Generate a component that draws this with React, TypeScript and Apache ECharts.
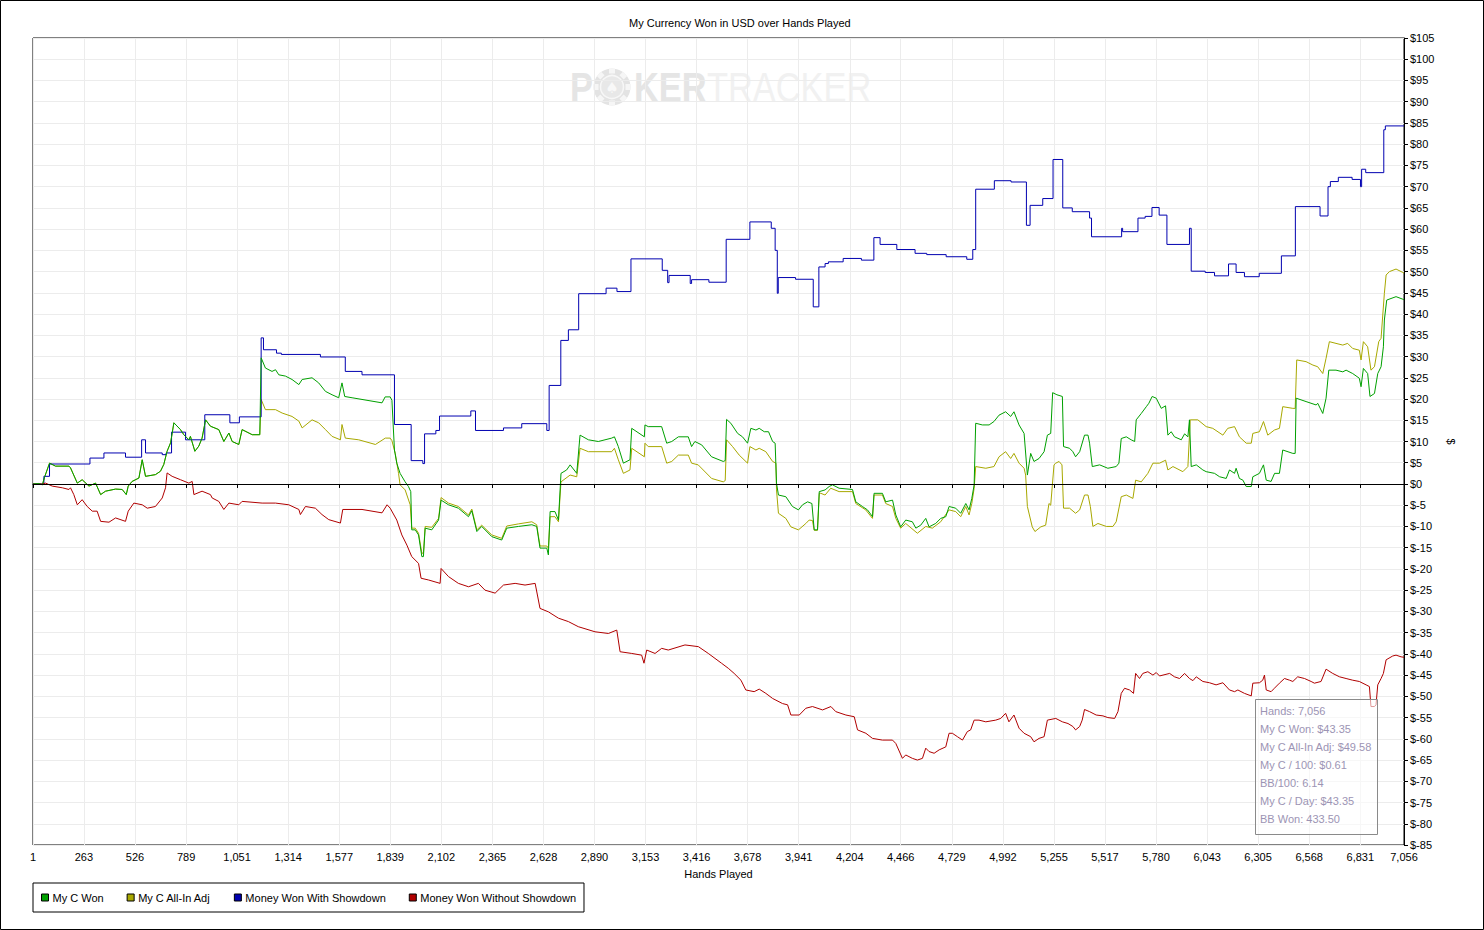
import React, { useEffect, useRef } from 'react';
import * as echarts from 'echarts';

const FONT = '"Liberation Sans", Arial, sans-serif';

const titleText = 'My Currency Won in USD over Hands Played';
const xAxisName = 'Hands Played';
const yAxisName = '$';
const seriesNames = ['My C Won', 'My C All-In Adj', 'Money Won With Showdown', 'Money Won Without Showdown'];
const seriesColors = ['#00a000', '#a8a800', '#0000b0', '#b00000'];

const xTicks = [1, 263, 526, 789, 1051, 1314, 1577, 1839, 2102, 2365, 2628, 2890, 3153, 3416, 3678, 3941, 4204, 4466, 4729, 4992, 5255, 5517, 5780, 6043, 6305, 6568, 6831, 7056];

const tooltipLines = [
  'Hands: 7,056',
  'My C Won: $43.35',
  'My C All-In Adj: $49.58',
  'My C / 100: $0.61',
  'BB/100: 6.14',
  'My C / Day: $43.35',
  'BB Won: 433.50',
];

// Both "won" series coincide until the first all-in hand
const commonStart = [[1,0],[31,0.1],[49,-0.2],[62,1.8],[86,4.9],[117,4.2],[186,4.2],[194,3.8],[229,0.2],[254,1.0],[289,-0.5],[323,0.2],[349,-2.5],[374,-1.7],[426,-1.2],[460,-1.3],[481,-2.5],[491,-0.5],[511,0.6],[546,1.4],[563,5.7],[580,1.8],[631,2.2],[657,3.0],[674,4.6],[691,7.7],[709,9.7],[726,14.4],[760,12.8],[777,11.6],[803,10.4],[811,11.2],[834,7.7],[854,8.9],[871,10.8],[889,15.1],[914,13.6],[957,12.8],[983,10.0],[1009,12.0],[1026,10.0],[1060,9.3],[1077,12.8],[1129,11.6],[1168,11.6]];

const wonRest = [[1175,29.7],[1197,27.3],[1231,26.5],[1249,26.9],[1266,25.7],[1300,25.4],[1334,24.6],[1369,23.4],[1386,24.6],[1437,25.0],[1471,23.8],[1506,21.8],[1540,21.0],[1574,20.3],[1591,23.8],[1605,20.6],[1643,20.3],[1694,19.9],[1797,19.1],[1813,20.5],[1839,20.5],[1848,19.7],[1861,8.0],[1873,4.9],[1890,2.5],[1916,0.5],[1933,-0.6],[1945,-1.8],[1950,-10.8],[1968,-10.8],[1985,-12.0],[2002,-17.1],[2010,-17.1],[2019,-10.4],[2053,-10.8],[2088,-8.5],[2101,-3.8],[2139,-4.9],[2190,-5.7],[2242,-7.7],[2259,-6.3],[2285,-11.2],[2310,-10.0],[2362,-12.4],[2413,-13.2],[2439,-10.4],[2499,-10.0],[2568,-9.6],[2593,-10.0],[2610,-15.1],[2645,-15.1],[2653,-16.7],[2662,-6.5],[2687,-6.5],[2705,-8.5],[2718,2.5],[2747,3.3],[2765,4.5],[2799,2.5],[2816,11.5],[2859,10.4],[2910,10.0],[2979,10.8],[2993,11.1],[3013,8.8],[3039,4.9],[3073,5.7],[3082,13.1],[3147,11.1],[3150,13.9],[3167,13.5],[3236,13.5],[3262,9.6],[3288,10.0],[3322,11.1],[3373,11.1],[3390,8.8],[3407,10.0],[3442,9.2],[3493,6.4],[3553,5.3],[3563,5.5],[3570,15.2],[3592,14.3],[3627,11.9],[3652,11.1],[3678,9.6],[3695,13.1],[3721,12.7],[3738,13.1],[3764,12.3],[3786,12.3],[3807,10.0],[3820,9.6],[3827,0.2],[3837,-2.6],[3875,-3.0],[3909,-5.3],[3940,-6.1],[3961,-4.9],[3987,-4.2],[4009,-4.6],[4021,-10.8],[4038,-10.8],[4047,-1.8],[4077,-1.4],[4098,-0.6],[4115,-0.2],[4149,-1.0],[4218,-1.3],[4235,-4.2],[4269,-5.3],[4295,-6.1],[4321,-7.7],[4329,-2.2],[4372,-2.2],[4389,-4.2],[4424,-3.8],[4441,-7.3],[4466,-10.1],[4492,-8.5],[4526,-8.9],[4544,-10.4],[4569,-9.7],[4595,-8.1],[4612,-10.1],[4646,-9.3],[4672,-8.1],[4698,-7.7],[4715,-5.3],[4749,-5.7],[4775,-6.9],[4801,-4.6],[4818,-6.1],[4832,-3.4],[4844,-0.2],[4852,14.3],[4886,13.9],[4921,13.9],[4946,14.7],[4972,16.2],[5006,17.0],[5032,15.9],[5049,17.0],[5075,13.9],[5101,11.9],[5118,2.1],[5135,7.2],[5152,5.3],[5178,6.0],[5204,7.6],[5221,11.5],[5238,11.9],[5248,21.5],[5270,21.0],[5298,20.6],[5304,8.8],[5335,8.4],[5352,7.6],[5366,6.4],[5387,7.6],[5412,11.5],[5430,11.5],[5438,9.6],[5452,4.1],[5490,4.5],[5532,3.7],[5575,4.1],[5589,4.9],[5601,10.7],[5627,11.1],[5652,10.4],[5670,10.0],[5678,15.1],[5704,16.6],[5730,18.2],[5743,19.0],[5760,20.6],[5781,20.2],[5807,17.8],[5829,18.4],[5841,11.5],[5858,12.3],[5875,11.1],[5910,10.4],[5927,11.8],[5944,11.1],[5952,15.1],[5961,4.1],[5987,4.5],[6021,3.3],[6038,2.9],[6081,2.5],[6107,1.7],[6141,1.3],[6158,3.3],[6184,2.5],[6192,3.7],[6209,1.3],[6227,0.9],[6244,-0.6],[6270,-0.6],[6278,1.7],[6312,2.5],[6333,4.5],[6347,0.9],[6372,0.6],[6390,2.5],[6415,2.5],[6432,8.0],[6484,7.2],[6496,7.2],[6501,20.2],[6552,19.4],[6604,18.6],[6612,19.0],[6638,16.6],[6655,20.2],[6669,26.8],[6706,26.8],[6741,26.4],[6758,26.8],[6792,26.0],[6826,24.9],[6835,22.9],[6847,27.2],[6869,26.0],[6881,20.6],[6904,21.3],[6921,26.0],[6938,27.6],[6950,32.3],[6955,38.6],[6967,43.3],[7015,44.1],[7050,43.5],[7056,43.35]];

const allInRest = [[1175,19.9],[1197,17.5],[1249,17.5],[1283,16.7],[1334,15.9],[1369,14.8],[1386,13.2],[1437,15.1],[1471,14.4],[1506,12.8],[1540,11.2],[1583,10.4],[1591,14.0],[1608,10.8],[1677,10.4],[1763,9.3],[1814,10.8],[1839,10.8],[1848,10.2],[1865,7.2],[1882,2.5],[1890,-0.2],[1916,-1.4],[1942,-4.9],[1950,-10.4],[1968,-10.4],[1985,-11.6],[2002,-16.3],[2010,-16.3],[2019,-10.0],[2053,-10.2],[2088,-8.1],[2101,-3.2],[2139,-4.5],[2190,-5.3],[2242,-7.3],[2259,-5.9],[2285,-10.8],[2310,-9.7],[2362,-12.0],[2413,-12.8],[2439,-9.9],[2499,-9.4],[2568,-8.9],[2593,-9.6],[2610,-14.6],[2645,-14.6],[2653,-15.1],[2662,-7.7],[2687,-7.7],[2705,-8.9],[2718,0.5],[2765,2.1],[2799,1.7],[2816,8.4],[2859,7.6],[2979,7.6],[2993,8.4],[3013,5.7],[3039,2.5],[3073,3.3],[3082,8.4],[3147,6.4],[3150,9.6],[3167,8.8],[3236,8.8],[3262,4.9],[3288,5.3],[3322,6.8],[3373,6.8],[3390,4.9],[3424,4.5],[3493,1.3],[3553,0.5],[3563,0.8],[3570,10.4],[3601,8.8],[3635,6.8],[3678,4.9],[3690,8.8],[3721,8.0],[3738,8.4],[3772,7.6],[3807,5.3],[3824,4.9],[3827,-1.4],[3837,-6.9],[3875,-8.1],[3901,-10.1],[3940,-10.8],[3978,-9.3],[3995,-8.5],[4012,-8.6],[4021,-10.9],[4038,-10.9],[4047,-2.2],[4055,-2.2],[4077,-2.6],[4106,-1.0],[4149,-1.8],[4218,-1.8],[4235,-4.6],[4286,-6.1],[4321,-8.1],[4329,-2.6],[4372,-2.6],[4389,-4.6],[4424,-5.3],[4441,-8.1],[4466,-10.4],[4492,-9.3],[4552,-11.6],[4595,-10.0],[4629,-10.4],[4672,-8.9],[4715,-6.1],[4749,-6.5],[4775,-7.7],[4801,-5.3],[4818,-7.3],[4832,-4.6],[4844,-1.0],[4852,4.1],[4904,3.7],[4946,4.1],[4972,6.4],[5006,7.6],[5032,6.0],[5049,7.2],[5075,4.9],[5101,3.7],[5109,2.1],[5118,-5.3],[5143,-10.1],[5157,-11.2],[5187,-10.1],[5212,-9.7],[5229,-4.6],[5238,-5.0],[5255,4.5],[5264,4.9],[5281,5.3],[5296,4.5],[5304,-5.7],[5335,-5.7],[5366,-6.9],[5387,-6.1],[5412,-2.6],[5430,-2.6],[5442,-5.3],[5455,-10.0],[5481,-9.3],[5524,-10.0],[5558,-10.0],[5575,-8.9],[5601,-3.0],[5627,-2.6],[5661,-3.4],[5675,0.9],[5704,0.5],[5738,2.5],[5764,4.9],[5798,4.9],[5829,5.6],[5841,3.3],[5867,4.1],[5918,2.9],[5944,4.1],[5956,15.1],[5995,15.1],[6038,13.5],[6072,13.1],[6124,11.5],[6149,13.1],[6184,13.5],[6209,11.1],[6244,9.6],[6270,9.6],[6278,11.9],[6312,12.3],[6333,14.7],[6355,11.5],[6389,12.7],[6415,13.1],[6432,18.2],[6484,17.8],[6496,17.8],[6504,29.2],[6552,28.8],[6587,28.0],[6612,27.6],[6638,26.0],[6655,29.6],[6672,33.5],[6706,33.1],[6741,32.7],[6766,33.1],[6792,31.9],[6826,31.5],[6835,29.2],[6847,33.5],[6869,32.3],[6886,26.8],[6904,27.6],[6926,33.5],[6938,34.3],[6955,44.9],[6964,49.2],[6981,50.0],[7015,50.6],[7050,49.8],[7056,49.58]];

// Showdown winnings: each point holds its level until the next point (step)
const showdownData = [[1,0],[57,1.8],[86,4.7],[294,6.1],[366,7.3],[477,6.3],[560,10.4],[580,7.3],[666,6.9],[686,7.3],[714,12.2],[786,10.4],[885,16.3],[1014,14.4],[1063,15.8],[1175,34.4],[1187,31.6],[1254,30.8],[1279,30.5],[1480,29.9],[1608,26.5],[1694,25.7],[1861,14.0],[1947,5.5],[2007,4.8],[2016,11.8],[2074,12.6],[2093,16.0],[2254,17.2],[2278,12.6],[2422,13.2],[2516,14.2],[2645,12.6],[2657,23.2],[2717,33.8],[2756,36.3],[2809,44.8],[2950,46.1],[3006,45.3],[3078,53.0],[3239,50.3],[3267,47.4],[3274,49.1],[3383,47.2],[3390,48.1],[3479,47.5],[3568,57.6],[3690,61.7],[3800,60.2],[3820,55.0],[3831,44.9],[3836,48.6],[3925,48.2],[4016,41.7],[4045,51.1],[4077,51.9],[4094,52.3],[4170,53.1],[4264,52.7],[4328,58.0],[4360,56.4],[4446,55.2],[4540,54.3],[4600,54.0],[4700,53.5],[4806,52.9],[4837,55.2],[4852,69.4],[4948,71.4],[5034,71.1],[5113,60.9],[5132,65.6],[5197,67.2],[5250,76.4],[5300,65.0],[5349,64.1],[5438,62.6],[5448,58.2],[5603,60.2],[5608,59.4],[5687,62.6],[5724,63.0],[5759,65.1],[5796,63.3],[5836,56.4],[5952,60.2],[5961,50.1],[6033,49.8],[6081,49.0],[6153,51.8],[6192,49.8],[6235,48.8],[6311,49.6],[6425,53.7],[6497,65.3],[6624,63.1],[6665,70.0],[6677,71.2],[6718,72.2],[6789,71.7],[6832,70.0],[6838,74.1],[6859,73.3],[6952,83.4],[6960,84.3],[7056,84.3]];

const nonShowdownData = [[1,0],[49,0],[66,0.2],[100,-0.5],[152,-0.9],[186,-1.3],[194,-0.9],[211,-2.5],[229,-4.9],[254,-3.7],[280,-5.3],[306,-6.4],[331,-6.4],[349,-8.8],[392,-9.0],[426,-8.0],[477,-8.8],[491,-6.4],[520,-4.5],[563,-4.9],[589,-5.7],[631,-5.3],[666,-3.3],[683,-0.9],[691,2.6],[717,1.8],[760,1.0],[803,0.2],[820,0.6],[829,-2.5],[871,-1.7],[914,-2.5],[923,-3.3],[957,-4.1],[983,-6.0],[1009,-4.5],[1060,-4.9],[1077,-4.1],[1180,-4.5],[1249,-4.5],[1317,-4.9],[1369,-6.0],[1377,-7.2],[1403,-5.3],[1454,-5.7],[1488,-7.2],[1523,-8.4],[1583,-9.2],[1595,-6.0],[1694,-6.0],[1797,-6.8],[1823,-4.9],[1839,-5.7],[1873,-8.5],[1899,-12.0],[1925,-14.4],[1950,-17.1],[1985,-18.7],[1998,-22.2],[2036,-22.6],[2096,-23.4],[2101,-19.9],[2139,-21.8],[2190,-23.4],[2242,-24.2],[2293,-23.4],[2327,-25.0],[2379,-25.7],[2422,-23.8],[2482,-23.4],[2533,-23.8],[2585,-23.4],[2610,-29.3],[2653,-30.1],[2705,-31.6],[2756,-32.4],[2807,-33.6],[2893,-34.8],[2962,-35.2],[3005,-34.4],[3022,-39.5],[3082,-39.9],[3133,-40.3],[3145,-42.2],[3159,-39.1],[3202,-39.9],[3236,-38.7],[3270,-39.1],[3356,-37.9],[3425,-38.3],[3476,-39.9],[3544,-42.2],[3579,-43.4],[3609,-44.6],[3644,-46.2],[3669,-48.5],[3712,-48.9],[3738,-48.3],[3772,-49.3],[3807,-50.5],[3858,-51.7],[3884,-52.0],[3901,-54.4],[3944,-54.4],[3978,-52.8],[4012,-52.4],[4064,-53.2],[4107,-52.4],[4132,-53.6],[4184,-54.4],[4227,-54.8],[4244,-57.9],[4287,-58.7],[4321,-59.9],[4372,-60.3],[4424,-60.3],[4441,-61.1],[4475,-64.6],[4492,-63.8],[4526,-64.6],[4552,-65.0],[4578,-64.6],[4595,-62.2],[4612,-63.0],[4638,-63.4],[4664,-62.6],[4698,-61.9],[4715,-58.7],[4732,-58.7],[4758,-59.5],[4784,-60.3],[4809,-58.3],[4826,-57.9],[4844,-55.6],[4869,-55.6],[4904,-56.0],[4955,-55.6],[4981,-55.2],[5006,-54.0],[5023,-56.0],[5049,-54.4],[5075,-57.5],[5101,-58.7],[5135,-59.5],[5152,-60.7],[5178,-59.9],[5204,-59.5],[5221,-55.6],[5264,-55.2],[5298,-56.0],[5327,-56.4],[5352,-57.1],[5366,-57.9],[5387,-57.1],[5400,-55.6],[5412,-53.1],[5438,-53.6],[5472,-54.4],[5507,-54.6],[5532,-55.0],[5567,-55.2],[5584,-53.6],[5601,-49.3],[5618,-48.1],[5644,-48.5],[5664,-49.3],[5675,-44.6],[5695,-45.8],[5712,-44.6],[5738,-44.2],[5764,-45.0],[5781,-44.4],[5798,-45.2],[5850,-44.6],[5875,-45.4],[5901,-45.8],[5927,-44.6],[5952,-45.8],[5970,-46.3],[5987,-45.4],[6021,-46.5],[6055,-46.8],[6089,-47.3],[6124,-46.8],[6158,-48.5],[6184,-48.9],[6201,-48.5],[6235,-49.3],[6270,-49.9],[6278,-46.9],[6312,-46.8],[6329,-46.2],[6338,-45.0],[6347,-48.5],[6372,-48.9],[6389,-48.1],[6415,-46.9],[6441,-45.8],[6467,-46.2],[6484,-46.5],[6509,-45.4],[6544,-45.8],[6578,-46.5],[6595,-46.9],[6629,-46.5],[6655,-43.6],[6689,-44.6],[6724,-45.4],[6758,-45.8],[6792,-46.2],[6826,-46.5],[6861,-47.3],[6878,-47.7],[6886,-52.4],[6904,-52.4],[6912,-52.0],[6921,-47.3],[6938,-45.8],[6950,-44.6],[6964,-41.4],[6998,-40.5],[7015,-40.3],[7041,-40.7],[7056,-40.8]];

const wonData = commonStart.concat(wonRest);
const allInData = commonStart.concat(allInRest);

export default function App() {
  const ref = useRef<HTMLDivElement>(null);

  useEffect(() => {
    const chart = echarts.init(ref.current as HTMLDivElement, null, { renderer: 'svg' });
    const txt = { fontFamily: FONT, fontSize: 11, color: '#000' };

    const chipCx = 612;
    const chipCy = 87;
    const notches: any[] = [];
    for (let k = 0; k < 8; k++) {
      notches.push({
        type: 'rect',
        x: chipCx,
        y: chipCy,
        rotation: (k * Math.PI) / 4,
        shape: { x: -3, y: -18.5, width: 6, height: 5 },
        style: { fill: '#f6f6f6' },
        silent: true,
        z: 0,
      });
    }

    const tooltipTexts = tooltipLines.map((t, i) => ({
      type: 'text',
      x: 1260,
      y: 711 + i * 18,
      style: { text: t, fill: '#9c94b4', fontFamily: FONT, fontSize: 11, verticalAlign: 'middle', align: 'left' },
      silent: true,
      z: 101,
    }));

    chart.setOption({
      animation: false,
      backgroundColor: '#ffffff',
      title: {
        text: titleText,
        left: 629,
        top: 17,
        padding: 0,
        textStyle: { ...txt, fontWeight: 'normal' },
      },
      grid: {
        left: 33,
        right: 80,
        top: 38,
        bottom: 85,
        show: true,
        borderColor: '#000',
        borderWidth: 1,
        backgroundColor: '#fff',
        containLabel: false,
      },
      legend: {
        data: seriesNames,
        left: 33,
        top: 883,
        orient: 'horizontal',
        padding: [9, 8, 9, 8],
        itemGap: 23,
        itemWidth: 7,
        itemHeight: 7,
        icon: 'rect',
        borderColor: '#000',
        borderWidth: 1,
        borderRadius: 0,
        selectedMode: false,
        itemStyle: { borderColor: '#000', borderWidth: 1 },
        textStyle: { ...txt, lineHeight: 11, padding: [0, 0, 0, -1] },
      },
      xAxis: {
        type: 'value',
        min: 1,
        max: 7056,
        name: xAxisName,
        nameLocation: 'middle',
        nameGap: 23,
        nameTextStyle: txt,
        axisLine: { show: true, lineStyle: { color: '#000', width: 1 } },
        axisTick: { show: true, length: 4, customValues: xTicks, lineStyle: { color: '#000' } },
        axisLabel: {
          ...txt,
          margin: 6,
          customValues: xTicks,
          formatter: (v: number) => v.toLocaleString('en-US'),
        },
        splitLine: { show: true, lineStyle: { color: '#ececec', width: 1 } },
      },
      yAxis: {
        type: 'value',
        position: 'right',
        min: -85,
        max: 105,
        interval: 5,
        name: yAxisName,
        nameLocation: 'middle',
        nameGap: 41,
        nameRotate: -90,
        nameTextStyle: txt,
        axisLine: { show: true, lineStyle: { color: '#000', width: 1 } },
        axisTick: { show: true, length: 4, lineStyle: { color: '#000' } },
        axisLabel: { ...txt, margin: 6, formatter: (v: number) => '$' + v },
        splitLine: { show: true, lineStyle: { color: '#ececec', width: 1 } },
      },
      series: [
        {
          name: seriesNames[0],
          type: 'line',
          data: wonData,
          showSymbol: false,
          symbol: 'none',
          color: seriesColors[0],
          lineStyle: { width: 1, color: seriesColors[0] },
          silent: true,
          z: 3,
        },
        {
          name: seriesNames[1],
          type: 'line',
          data: allInData,
          showSymbol: false,
          symbol: 'none',
          color: seriesColors[1],
          lineStyle: { width: 1, color: seriesColors[1] },
          silent: true,
          z: 2,
        },
        {
          name: seriesNames[2],
          type: 'line',
          data: showdownData,
          step: 'end',
          showSymbol: false,
          symbol: 'none',
          color: seriesColors[2],
          lineStyle: { width: 1, color: seriesColors[2] },
          silent: true,
          z: 2,
        },
        {
          name: seriesNames[3],
          type: 'line',
          data: nonShowdownData,
          showSymbol: false,
          symbol: 'none',
          color: seriesColors[3],
          lineStyle: { width: 1, color: seriesColors[3] },
          silent: true,
          z: 2,
          markLine: {
            silent: true,
            symbol: ['none', 'none'],
            label: { show: false },
            lineStyle: { color: '#000', width: 1, type: 'solid' },
            data: [{ yAxis: 0 }],
          },
        },
      ],
      graphic: [
        {
          type: 'rect',
          shape: { x: 0.5, y: 0.5, width: 1483, height: 929 },
          style: { fill: 'none', stroke: '#000', lineWidth: 1 },
          silent: true,
          z: 200,
        },
        {
          type: 'text',
          x: 570,
          y: 87,
          scaleX: 0.8,
          style: { text: 'P', fill: '#e5e5e5', fontFamily: FONT, fontWeight: 'bold', fontSize: 43, verticalAlign: 'middle', align: 'left' },
          silent: true,
          z: 0,
        },
        {
          type: 'circle',
          shape: { cx: chipCx, cy: chipCy, r: 18.5 },
          style: { fill: '#e3e3e3' },
          silent: true,
          z: 0,
        },
        ...notches,
        {
          type: 'circle',
          shape: { cx: chipCx, cy: chipCy, r: 11.5 },
          style: { fill: '#e8e8e8', stroke: '#f7f7f7', lineWidth: 1.5 },
          silent: true,
          z: 0,
        },
        {
          type: 'text',
          x: chipCx,
          y: chipCy + 1,
          style: { text: '\u2660', fill: '#f8f8f8', fontFamily: '"DejaVu Sans", sans-serif', fontSize: 15, verticalAlign: 'middle', align: 'center' },
          silent: true,
          z: 0,
        },
        {
          type: 'text',
          x: 634,
          y: 87,
          scaleX: 0.8,
          style: { text: 'KER', fill: '#e5e5e5', fontFamily: FONT, fontWeight: 'bold', fontSize: 43, verticalAlign: 'middle', align: 'left' },
          silent: true,
          z: 0,
        },
        {
          type: 'text',
          x: 707,
          y: 87,
          scaleX: 0.8,
          style: { text: 'TRACKER', fill: '#f1f1f1', fontFamily: FONT, fontWeight: 'normal', fontSize: 43, verticalAlign: 'middle', align: 'left' },
          silent: true,
          z: 0,
        },
        {
          type: 'rect',
          shape: { x: 1255.5, y: 699.5, width: 122, height: 135 },
          style: { fill: 'rgba(255,255,255,0.6)', stroke: '#8a8a8a', lineWidth: 1 },
          silent: true,
          z: 100,
        },
        ...tooltipTexts,
      ],
    });

    return () => chart.dispose();
  }, []);

  return (
    <div
      ref={ref}
      style={{ position: 'absolute', left: 0, top: 0, width: 1484, height: 930, background: '#fff' }}
    />
  );
}
